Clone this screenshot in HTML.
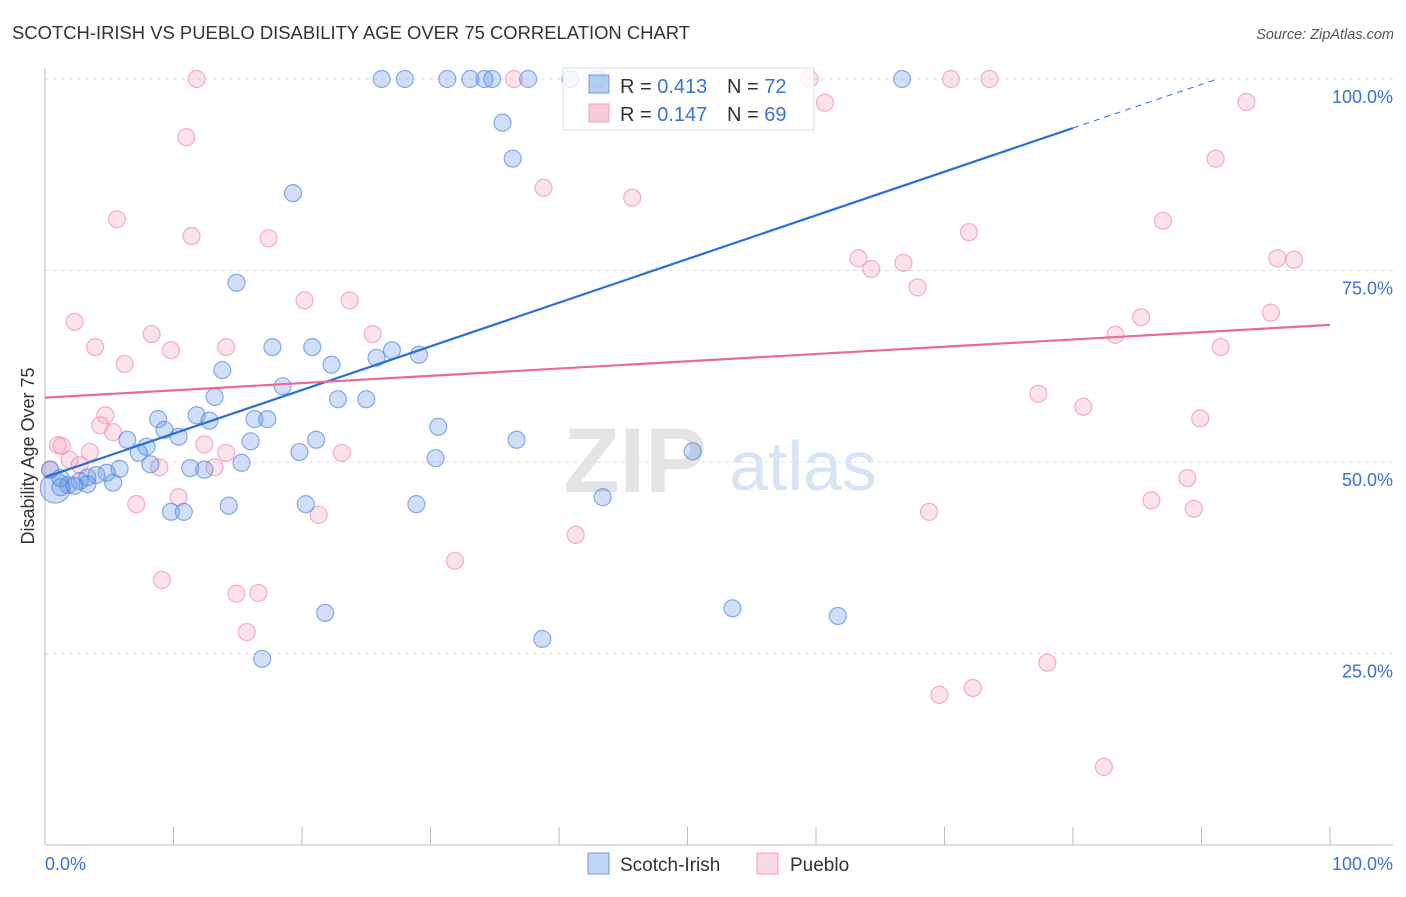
<!DOCTYPE html>
<html><head><meta charset="utf-8"><style>
body{margin:0;background:#fff;font-family:"Liberation Sans",sans-serif;}
svg text{font-family:"Liberation Sans",sans-serif;}
</style></head><body>
<svg id="chart" width="1406" height="892" viewBox="0 0 1406 892" xmlns="http://www.w3.org/2000/svg">
<text x="12" y="39" font-size="18" fill="#333" textLength="678" lengthAdjust="spacingAndGlyphs">SCOTCH-IRISH VS PUEBLO DISABILITY AGE OVER 75 CORRELATION CHART</text>
<text x="1394" y="39" font-size="14.5" fill="#555" font-style="italic" text-anchor="end">Source: ZipAtlas.com</text>
<g id="grid"></g>
<g>
<text x="635" y="492" font-size="92" fill="#e4e4e4" font-family="Liberation Serif" text-anchor="middle" font-weight="bold">ZIP</text>
<text x="803" y="490" font-size="70" fill="#d6e4f5" text-anchor="middle">atlas</text>
</g>
<g id="axes"></g>
<g id="pts"></g>
<g id="lines"></g>
<text transform="translate(34,456) rotate(-90)" font-size="18" fill="#333" text-anchor="middle">Disability Age Over 75</text>
<g>
<rect x="563" y="68" width="251" height="62" fill="rgba(255,255,255,0.8)" stroke="#ddd"/>
<rect x="589" y="75" width="20" height="18" fill="rgba(100,150,230,0.45)" stroke="#6c9be0"/>
<rect x="589" y="104" width="20" height="18" fill="rgba(245,160,185,0.55)" stroke="#f0a0b8"/>
<text x="620" y="93" font-size="20" fill="#333">R = <tspan fill="#3a72d0">0.413</tspan></text>
<text x="727" y="93" font-size="20" fill="#333">N = <tspan fill="#3a72d0">72</tspan></text>
<text x="620" y="121" font-size="20" fill="#333">R = <tspan fill="#3a72d0">0.147</tspan></text>
<text x="727" y="121" font-size="20" fill="#333">N = <tspan fill="#3a72d0">69</tspan></text>
</g>
<g>
<rect x="588" y="853" width="21" height="21" fill="rgba(100,150,230,0.4)" stroke="#6c9be0"/>
<text x="620" y="871" font-size="19" fill="#333">Scotch-Irish</text>
<rect x="757" y="853" width="21" height="21" fill="rgba(245,160,185,0.4)" stroke="#f0a0b8"/>
<text x="790" y="871" font-size="19" fill="#333">Pueblo</text>
</g>
</svg>
<script>
const blueX=[26.2,28.0,31.3,33.1,34.2,34.8,37.6,40.9,43.0,66.7,35.6,36.4,19.3,14.9,17.7,20.8,27.0,29.1,25.8,22.3,13.8,18.5,13.2,22.8,25.0,8.8,11.8,12.8,16.3,17.3,9.3,6.4,7.9,10.4,16.0,21.1,36.7,30.6,7.3,19.8,30.4,50.4,8.2,15.3,5.8,11.3,12.4,4.8,4.0,3.3,2.7,1.8,1.2,5.3,3.3,0.8,0.4,43.4,14.3,20.3,28.9,9.8,10.8,21.8,38.7,16.9,53.5,61.7,1.2,2.3];
const blueY=[100,100,100,100,100,100,100,100,100,100,94.3,89.6,85.1,73.4,65.0,65.0,64.6,64.0,63.6,62.7,62.0,59.9,58.5,58.2,58.2,55.6,56.1,55.4,55.6,55.6,54.2,52.9,52.0,53.3,52.7,52.9,52.9,54.6,51.2,51.3,50.5,51.4,49.7,49.9,49.1,49.2,49.0,48.6,48.3,48.0,47.5,47.0,46.7,47.3,47.1,46.6,49.0,45.4,44.3,44.5,44.5,43.5,43.5,30.3,26.9,24.3,30.9,29.9,47.9,46.9];
const pinkX=[11.8,36.5,59.5,70.5,73.5,60.7,93.5,11.0,91.1,38.8,45.7,5.6,11.4,17.4,87.0,71.9,63.3,64.3,66.8,67.9,95.9,97.2,20.2,23.7,2.3,95.4,85.3,83.3,25.5,8.3,3.9,9.8,14.1,91.5,6.2,77.3,80.8,89.9,4.7,4.3,5.3,1.0,1.3,12.4,14.1,23.1,3.5,1.9,2.7,8.9,13.2,88.9,7.1,10.4,86.1,89.4,68.8,21.3,41.3,31.9,9.1,14.9,16.6,15.7,78.0,69.6,72.2,82.4,0.4];
const pinkY=[100,100,100,100,100,96.9,97.0,92.4,89.6,85.8,84.5,81.7,79.5,79.2,81.5,80.0,76.6,75.2,76.0,72.8,76.6,76.4,71.1,71.1,68.3,69.5,68.9,66.6,66.7,66.7,65.0,64.6,65.0,65.0,62.8,58.9,57.2,55.7,56.1,54.8,53.9,52.2,52.1,52.3,51.2,51.2,51.3,50.3,49.6,49.3,49.3,47.9,44.5,45.4,45.0,43.9,43.5,43.1,40.5,37.1,34.6,32.8,32.9,27.8,23.8,19.6,20.5,10.2,49.0];
const blueTrend=[48.0,93.6];
const pinkTrend=[58.4,67.9];
const yTicks=[25,50,75,100];
const yTickLabels=["25.0%","50.0%","75.0%","100.0%"];
const xTicks=[0,10,20,30,40,50,60,70,80,90,100];

const NS="http://www.w3.org/2000/svg";
const X=v=>45+v*12.85, Y=v=>845-v*7.66;
function mk(tag,attrs,parent){const e=document.createElementNS(NS,tag);for(const k in attrs)e.setAttribute(k,attrs[k]);parent.appendChild(e);return e;}
const grid=document.getElementById('grid'),axes=document.getElementById('axes'),pts=document.getElementById('pts'),lines=document.getElementById('lines');
yTicks.forEach((t,i)=>{
  const l=mk('line',{x1:45,x2:1393,y1:Y(t),y2:Y(t),stroke:'#ddd','stroke-dasharray':'4,4'},grid);
  
  
  const tx=mk('text',{x:1393,y:Y(t)+24,'font-size':18,fill:'#3a72d0','text-anchor':'end'},axes);
  tx.textContent=yTickLabels[i];
  
  
});
mk('line',{x1:45,x2:45,y1:68,y2:845,stroke:'#bbb'},axes);
mk('line',{x1:45,x2:1393,y1:845,y2:845,stroke:'#bbb'},axes);
xTicks.forEach(t=>{const l=mk('line',{x1:X(t),x2:X(t),y1:827,y2:845,stroke:'#bbb'},axes);
  
  });
const xl0=mk('text',{x:45,y:870,'font-size':18,fill:'#3a72d0'},axes);xl0.textContent='0.0%';


const xl1=mk('text',{x:1393,y:870,'font-size':18,fill:'#3a72d0','text-anchor':'end'},axes);xl1.textContent='100.0%';



pinkX.forEach((v,i)=>{const c=mk('circle',{cx:X(v),cy:Y(pinkY[i]),r:8.5,fill:'rgba(245,160,185,0.3)',stroke:'rgba(235,130,165,0.6)','stroke-width':1.2},pts);
  
  });
blueX.forEach((v,i)=>{const c=mk('circle',{cx:X(v),cy:Y(blueY[i]),r:(i===55?15:8.5),fill:'rgba(100,150,230,0.3)',stroke:'rgba(80,130,220,0.65)','stroke-width':1.2},pts);
  
  });
const bSlope=(blueTrend[1]-blueTrend[0])/80;
const bl=mk('line',{x1:X(0),y1:Y(blueTrend[0]),x2:X(80),y2:Y(blueTrend[1]),stroke:'#2a6fd6','stroke-width':2.2},lines);


const xEnd=(100-blueTrend[0])/bSlope;
const bd=mk('line',{x1:X(80),y1:Y(blueTrend[1]),x2:X(xEnd),y2:Y(100),stroke:'#2a6fd6','stroke-width':1,'stroke-dasharray':'6,5'},lines);


const pl=mk('line',{x1:X(0),y1:Y(pinkTrend[0]),x2:X(100),y2:Y(pinkTrend[1]),stroke:'#e8699a','stroke-width':2.2},lines);


</script>
</body></html>
